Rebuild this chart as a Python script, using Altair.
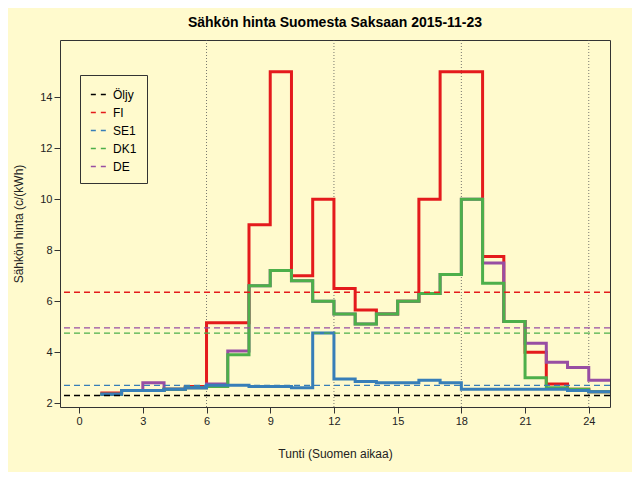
import altair as alt
import pandas as pd

hours = list(range(1, 26))
fi = [2.4, 2.5, 2.5, 2.55, 2.65, 5.15, 5.15, 9.0, 15, 7.0, 10, 6.5, 5.65, 5.5, 6.0, 10, 15, 15, 7.75, 5.2, 4.0, 2.75, 2.55, 2.45]
dk1 = [2.35, 2.5, 2.5, 2.55, 2.6, 2.65, 3.9, 6.6, 7.2, 6.8, 6.0, 5.5, 5.1, 5.5, 6.0, 6.3, 7.05, 10, 6.7, 5.2, 3.0, 2.6, 2.55, 2.45]
de = [2.35, 2.5, 2.8, 2.55, 2.6, 2.75, 4.05, 6.6, 7.2, 6.8, 6.0, 5.5, 5.1, 5.5, 6.0, 6.3, 7.05, 10, 7.5, 5.2, 4.35, 3.6, 3.4, 2.9]
se1 = [2.35, 2.5, 2.5, 2.55, 2.6, 2.7, 2.7, 2.65, 2.65, 2.6, 4.75, 2.95, 2.85, 2.8, 2.8, 2.9, 2.8, 2.55, 2.55, 2.55, 2.55, 2.55, 2.5, 2.45]

names = ["Öljy", "FI", "SE1", "DK1", "DE"]
colors = ["#000000", "#e41a1c", "#377eb8", "#4daf4a", "#984ea3"]
averages = [2.3, 6.35, 2.7, 4.75, 4.95]

rows = []
for order, (name, vals) in enumerate([("FI", fi), ("DE", de), ("DK1", dk1), ("SE1", se1)]):
    for h, v in zip(hours, vals + [vals[-1]]):
        rows.append({"tunti": h, "hinta": v, "alue": name, "o": order})
df = pd.DataFrame(rows)
avg = pd.DataFrame({"alue": names, "hinta": averages})
vlines = pd.DataFrame({"tunti": [6, 12, 18, 24]})

xs = alt.Scale(domain=[-0.9, 25], nice=False, zero=False)
ys = alt.Scale(domain=[1.85, 16.24], nice=False, zero=False)
cs = alt.Scale(domain=names, range=colors)
leg = alt.Legend(orient="none", legendX=20, legendY=35,
                 symbolType="stroke", symbolDash=[5, 5],
                 symbolStrokeWidth=1.5, symbolSize=300,
                 strokeColor="#333333", padding=10,
                 labelFontSize=12, rowPadding=2)

grid = alt.Chart(vlines).mark_rule(color="#555555", strokeDash=[1, 2], strokeWidth=0.8).encode(
    x=alt.X("tunti:Q", scale=xs)
)

steps = alt.Chart(df).mark_line(interpolate="step-after", strokeWidth=3).encode(
    x=alt.X("tunti:Q", scale=xs, title="Tunti (Suomen aikaa)",
            axis=alt.Axis(values=list(range(0, 25, 3)), grid=False, titlePadding=22)),
    y=alt.Y("hinta:Q", scale=ys, title="Sähkön hinta (c/(kWh)",
            axis=alt.Axis(values=[2, 4, 6, 8, 10, 12, 14], grid=False)),
    color=alt.Color("alue:N", scale=cs, sort=names, title=None, legend=leg),
    detail="alue:N",
    order="o:Q",
)

means = alt.Chart(avg).mark_rule(strokeDash=[6, 4], strokeWidth=1.3).encode(
    y=alt.Y("hinta:Q", scale=ys),
    color=alt.Color("alue:N", scale=cs, sort=names, title=None, legend=leg),
)

chart = alt.layer(grid, steps, means).properties(
    width=550, height=367,
    title=alt.TitleParams("Sähkön hinta Suomesta Saksaan 2015-11-23", fontSize=14, offset=10),
    autosize=alt.AutoSizeParams(type="none"),
    padding={"left": 52, "top": 32, "right": 22, "bottom": 65},
).configure(
    background="#FFFACD", font="Liberation Sans"
).configure_view(
    stroke="#333333", fill="#FFFACD"
).configure_axis(
    domain=False, tickColor="#333333", labelFontSize=11, titleFontSize=12,
    titleFontWeight="normal", labelColor="#222222", titleColor="#222222", tickSize=6
).configure_axisY(titlePadding=14)

chart.save("out.html", embed_options={"renderer": "svg", "actions": False})
